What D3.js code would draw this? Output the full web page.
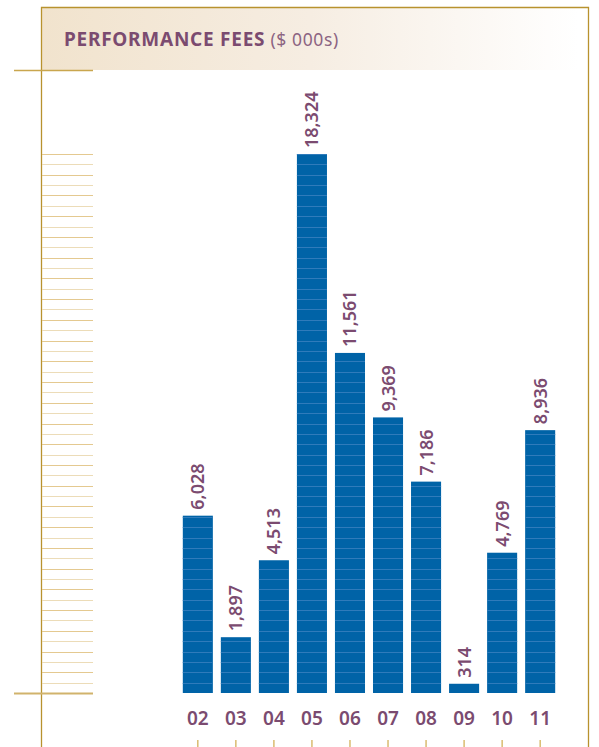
<!DOCTYPE html>
<html>
<head>
<meta charset="utf-8">
<script src="https://cdn.jsdelivr.net/npm/d3@7"></script>
<style>
  html, body { margin: 0; padding: 0; background: #fff; }
  svg { display: block; }
  text { font-family: "Noto Sans", "Open Sans", sans-serif; }
</style>
</head>
<body>
<script>
// Performance fees by year, in thousands of dollars
const years = ["02", "03", "04", "05", "06", "07", "08", "09", "10", "11"];
const fees = [6028, 1897, 4513, 18324, 11561, 9369, 7186, 314, 4769, 8936];
const stripeCount = 52;

const W = 599, H = 747;
const gold = "#b8922e";
const purple = "#7b4b70";
const blue = "#0063a7";

const svg = d3.select("body").append("svg")
  .attr("width", W).attr("height", H);

// title band with a fading warm gradient
const defs = svg.append("defs");
const grad = defs.append("linearGradient").attr("id", "band")
  .attr("x1", "0").attr("x2", "1").attr("y1", "0").attr("y2", "0");
grad.append("stop").attr("offset", "0").attr("stop-color", "#f1e3cd");
grad.append("stop").attr("offset", "0.5").attr("stop-color", "#f6ede2");
grad.append("stop").attr("offset", "1").attr("stop-color", "#ffffff");

svg.append("rect").attr("x", 42).attr("y", 8).attr("width", 536).attr("height", 62)
  .attr("fill", "url(#band)");

// frame
svg.append("path")
  .attr("d", "M41.5,747 V7.5 H588.5 V747")
  .attr("fill", "none").attr("stroke", gold).attr("stroke-width", 1.3);

// title
const title = svg.append("text").attr("x", 64).attr("y", 46);
title.append("tspan").text("PERFORMANCE FEES")
  .attr("font-weight", 700).attr("font-size", 19).attr("letter-spacing", 0.75).attr("fill", purple);
title.append("tspan").text(" ($ 000s)")
  .attr("font-weight", 400).attr("font-size", 17.5).attr("letter-spacing", 0.6).attr("fill", "#8c6482");

// scales
const x = d3.scaleBand().domain(years).range([179, 559]).paddingInner(0.21).paddingOuter(0.1);
const y = d3.scaleLinear().domain([0, d3.max(fees)]).range([693, 154]);

// horizontal stripe ruler on the left
const stripeVals = d3.range(0, stripeCount + 1).map(i => d3.max(fees) * i / stripeCount);
svg.append("g").selectAll("line").data(stripeVals.slice(1)).join("line")
  .attr("x1", 42).attr("x2", 93)
  .attr("y1", d => Math.round(y(d)) + 0.5).attr("y2", d => Math.round(y(d)) + 0.5)
  .attr("stroke", (d, i) => i % 2 === 0 ? "#ecdcb8" : "#e4c990")
  .attr("stroke-width", 1.2);

// gold rules at header and baseline
svg.append("line").attr("x1", 14).attr("x2", 93).attr("y1", 70.5).attr("y2", 70.5)
  .attr("stroke", "#c9a64e").attr("stroke-width", 1.5);
svg.append("line").attr("x1", 14).attr("x2", 93).attr("y1", y(0) + 0.5).attr("y2", y(0) + 0.5)
  .attr("stroke", "#d1b36c").attr("stroke-width", 2);

// bars
const bars = svg.append("g");
bars.selectAll("rect").data(fees).join("rect")
  .attr("x", (d, i) => x(years[i]))
  .attr("y", d => y(d))
  .attr("width", x.bandwidth())
  .attr("height", d => y(0) - y(d))
  .attr("fill", blue);

// light horizontal rules inside each bar
fees.forEach((v, i) => {
  const inside = stripeVals.filter(s => s > 0 && s <= v + 1e-6);
  bars.append("g").selectAll("line").data(inside).join("line")
    .attr("x1", x(years[i])).attr("x2", x(years[i]) + x.bandwidth())
    .attr("y1", d => Math.round(y(d)) + 0.5).attr("y2", d => Math.round(y(d)) + 0.5)
    .attr("stroke", "#2f7bbb").attr("stroke-width", 1);
});

// value labels, rotated
const fmt = d3.format(",");
svg.append("g").selectAll("text").data(fees).join("text")
  .attr("transform", (d, i) => `translate(${x(years[i]) + x.bandwidth() / 2 + 6.5},${y(d) - 6}) rotate(-90)`)
  .attr("font-size", 18).attr("font-weight", 600).attr("fill", purple)
  .text(d => fmt(d));

// year labels
const xAxis = svg.append("g");
xAxis.selectAll("text").data(years).join("text")
  .attr("x", d => x(d) + x.bandwidth() / 2)
  .attr("y", 725)
  .attr("text-anchor", "middle")
  .attr("font-size", 19).attr("font-weight", 600).attr("fill", purple)
  .text(d => d);
xAxis.selectAll("line").data(years).join("line")
  .attr("x1", d => x(d) + x.bandwidth() / 2).attr("x2", d => x(d) + x.bandwidth() / 2)
  .attr("y1", 740).attr("y2", 747)
  .attr("stroke", "#d4b25a").attr("stroke-width", 1.3);
</script>
</body>
</html>
